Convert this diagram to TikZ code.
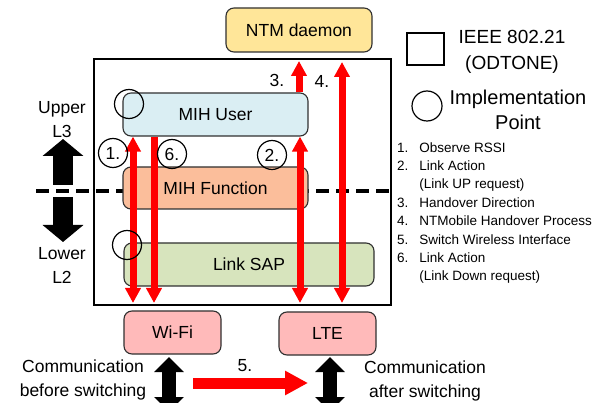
\documentclass[tikz,border=0pt]{standalone}
\usepackage{fontspec}
\setmainfont{Liberation Sans}
\usetikzlibrary{arrows.meta}
\definecolor{ntmfill}{HTML}{FFE699}
\definecolor{userfill}{HTML}{DAEEF3}
\definecolor{funcfill}{HTML}{FBBE9B}
\definecolor{sapfill}{HTML}{D7E4BD}
\definecolor{ifacefill}{HTML}{FFBABA}
\definecolor{boxline}{HTML}{303030}
\begin{document}
\begin{tikzpicture}[x=1pt,y=-1pt,
  font=\fontsize{17.5}{21}\selectfont,
  box/.style={draw=boxline, line width=1.1pt, rounded corners=8pt, inner sep=0pt},
  redarrow/.style={red, line width=7pt, -{Triangle[width=15pt,length=15pt]}},
  redboth/.style={red, line width=7pt, {Triangle[width=15pt,length=15pt]}-{Triangle[width=15pt,length=15pt]}},
  blkarrow/.style={black, line width=20pt, -{Triangle[width=40pt,length=17pt]}},
  blkboth/.style={black, line width=14pt, {Triangle[width=29pt,length=15pt]}-{Triangle[width=29pt,length=15pt]}},
  ipoint/.style={circle, draw=black, line width=1.2pt, minimum size=29pt, inner sep=0pt},
  numcirc/.style={circle, draw=black, line width=1.2pt, minimum size=29pt, inner sep=0pt},
  lbl/.style={inner sep=0pt, align=center}
]
\useasboundingbox (0,0) rectangle (605,403);

% layer dashed line
\coordinate (dashL) at (36,191);
\coordinate (dashR) at (390,191);
\draw[line width=4pt, dash pattern=on 13pt off 7pt] (dashL) -- (dashR);

% frame
\node[draw=black, line width=1.4pt, minimum width=297pt, minimum height=246pt, inner sep=0pt] (frame) at (242.5,182) {};

% boxes
\node[box, fill=ntmfill, minimum width=146pt, minimum height=44pt] (ntm) at (299,30) {NTM daemon};
\node[box, fill=userfill, minimum width=185pt, minimum height=43pt] (mihuser) at (215.5,114.5) {MIH User};
\node[box, fill=funcfill, minimum width=185pt, minimum height=42pt] (mihfunc) at (215.5,188) {MIH Function};
\node[box, fill=sapfill, minimum width=250pt, minimum height=43pt] (linksap) at (249,264.5) {Link SAP};
\node[box, fill=ifacefill, minimum width=97pt, minimum height=43pt] (wifi) at (172.5,332.5) {Wi-Fi};
\node[box, fill=ifacefill, minimum width=97pt, minimum height=43pt] (lte) at (327.5,333.5) {LTE};

% left layer arrows and labels
\coordinate (upS) at (63,185);
\coordinate (upT) at (63,139);
\coordinate (dnS) at (63,197);
\coordinate (dnT) at (63,242);
\draw[blkarrow] (upS) -- (upT);
\draw[blkarrow] (dnS) -- (dnT);
\node[lbl, font=\fontsize{17.5}{24}\selectfont] (upper) at (62,120) {Upper\\L3};
\node[lbl, font=\fontsize{17.5}{24}\selectfont] (lower) at (62,265) {Lower\\L2};

% red vertical arrows
\coordinate (a1b) at (133,303);
\coordinate (a6b) at (154,303);
\coordinate (a2b) at (300,303);
\coordinate (a4b) at (342,303);
\coordinate (a4t) at (342,62);
\coordinate (a3t) at (299,61);
\draw[redboth] (a1b) -- (a1b |- mihuser.south);
\draw[redarrow] (a6b |- mihuser.south) -- (a6b);
\draw[redboth] (a2b) -- (a2b |- mihuser.south);
\draw[redarrow] (a3t |- mihuser.north) -- (a3t);
\draw[redboth] (a4b) -- (a4t);

\node[lbl] (n3) at (277,80) {3.};
\node[lbl] (n4) at (322,81) {4.};
\node[numcirc] (c1) at (113,153) {1.};
\node[numcirc] (c6) at (172,154) {6.};
\node[numcirc] (c2) at (272,155) {2.};

% implementation points
\node[ipoint] (ip1) at (129,104) {};
\node[ipoint] (ip2) at (127,245) {};

% bottom arrows
\coordinate (wt) at (169,357);
\coordinate (wb) at (169,412);
\coordinate (lt) at (330,357);
\coordinate (lb) at (330,412);
\draw[blkboth] (wt) -- (wb);
\draw[blkboth] (lt) -- (lb);
\coordinate (s5a) at (193,383);
\coordinate (s5b) at (308,383);
\draw[red, line width=11pt, -{Triangle[width=23pt,length=23pt]}] (s5a) -- (s5b);
\node[lbl] (n5) at (245,366) {5.};
\node[lbl, font=\fontsize{17.5}{24}\selectfont] (before) at (83,380) {Communication\\before switching};
\node[lbl, font=\fontsize{17.5}{24}\selectfont] (after) at (425,381) {Communication\\after switching};

% legend
\node[draw=black, line width=1.3pt, minimum width=37pt, minimum height=32pt, inner sep=0pt] (legsq) at (425.5,49) {};
\node[lbl, font=\fontsize{19}{26}\selectfont] (legodt) at (512,52) {IEEE 802.21\\(ODTONE)};
\node[ipoint, minimum size=30pt] (legcirc) at (427,106) {};
\node[lbl, font=\fontsize{20}{25}\selectfont] (legimp) at (518,110) {Implementation\\Point};
\node[anchor=north west, inner sep=0pt, font=\fontsize{13.5}{18.4}\selectfont] (list) at (397,139) {%
\begin{tabular}{@{}l@{\hspace{11pt}}l@{}}
1. & Observe RSSI\\
2. & Link Action\\
   & (Link UP request)\\
3. & Handover Direction\\
4. & NTMobile Handover Process\\
5. & Switch Wireless Interface\\
6. & Link Action\\
   & (Link Down request)
\end{tabular}};
\end{tikzpicture}
\end{document}
